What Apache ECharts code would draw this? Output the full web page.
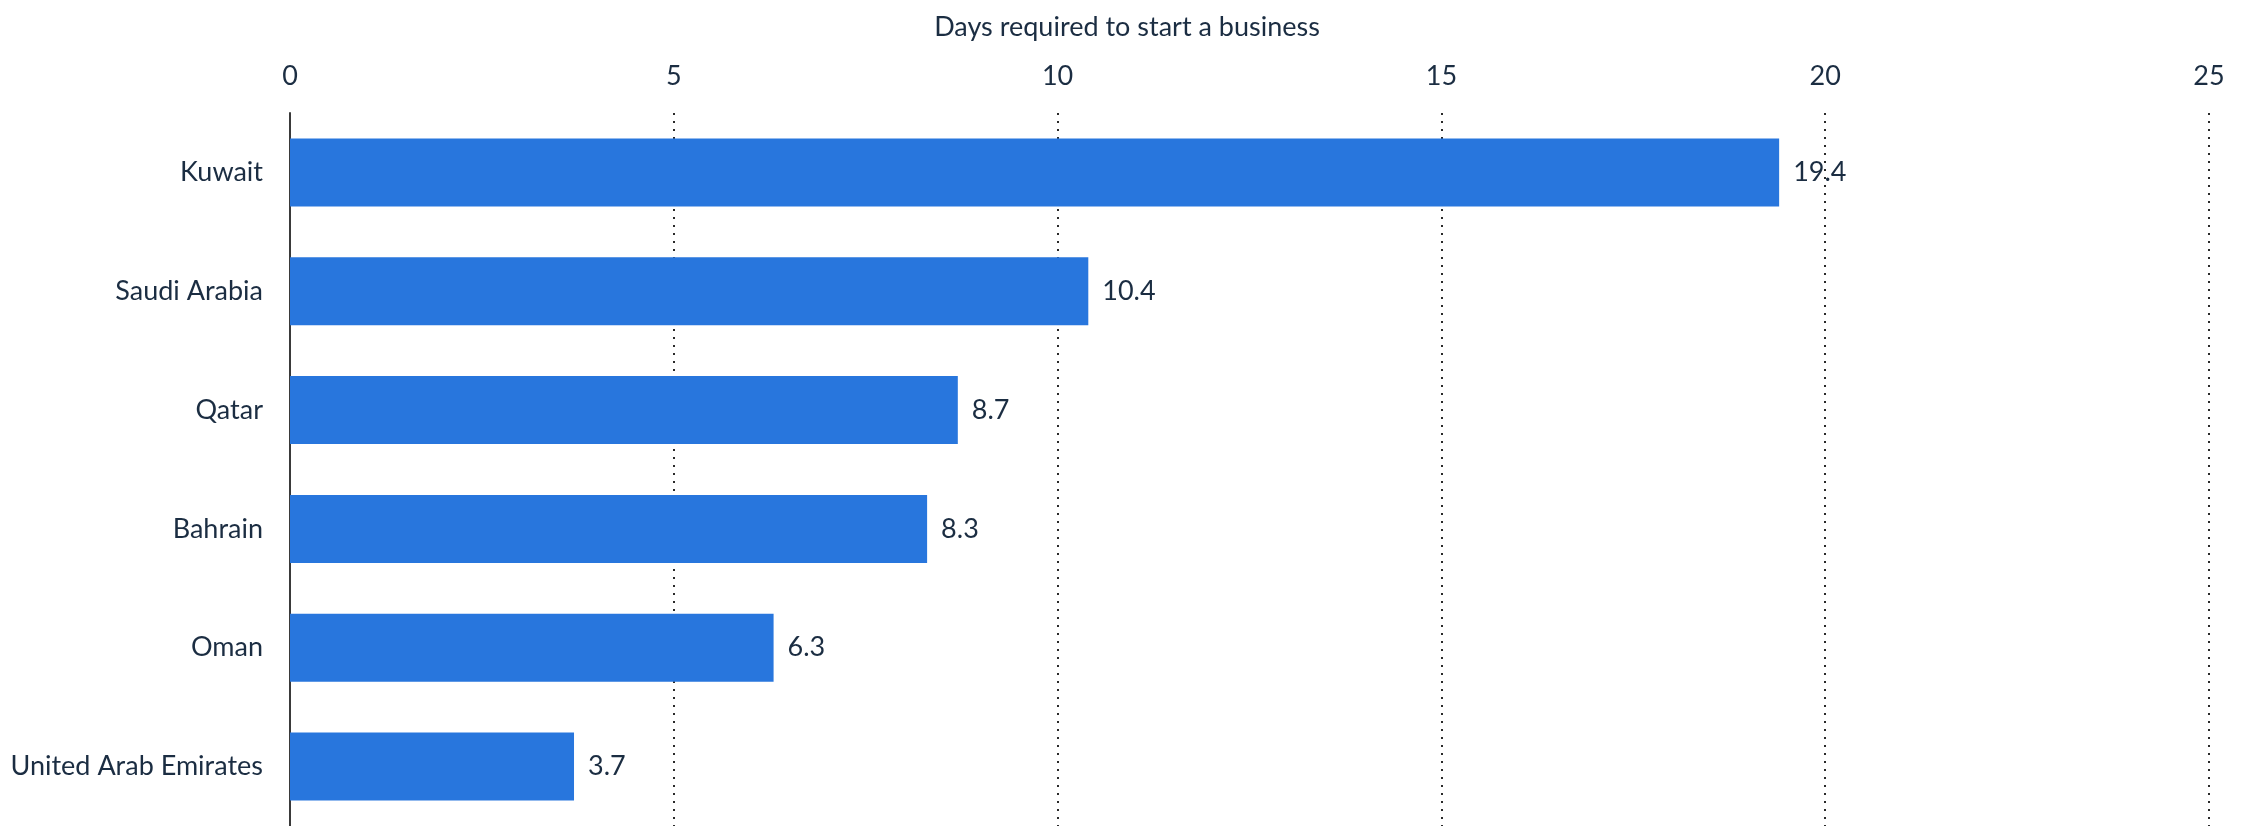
<!DOCTYPE html>
<html>
<head>
<meta charset="utf-8">
<script src="https://cdn.jsdelivr.net/npm/echarts@6/dist/echarts.min.js"></script>
<style>
  html, body { margin: 0; padding: 0; background: #ffffff; }
  #chart { width: 2254px; height: 826px; }
</style>
</head>
<body>
<div id="chart"></div>
<script>
// Days required to start a business, Gulf states
const countries = ['Kuwait', 'Saudi Arabia', 'Qatar', 'Bahrain', 'Oman', 'United Arab Emirates'];
const days = [19.4, 10.4, 8.7, 8.3, 6.3, 3.7];
const axisTitle = 'Days required to start a business';

const textColor = '#1b2d42';
const fontFamily = 'Lato, "Open Sans", sans-serif';

const chart = echarts.init(document.getElementById('chart'), null, { renderer: 'canvas' });

chart.setOption({
  backgroundColor: '#ffffff',
  animation: false,
  title: {
    text: axisTitle,
    left: 'center',
    top: 9,
    textStyle: { color: textColor, fontFamily: fontFamily, fontSize: 27, fontWeight: 'normal' }
  },
  grid: { left: 290, right: 45, top: 113, bottom: -5, containLabel: false },
  xAxis: {
    type: 'value',
    position: 'top',
    min: 0,
    max: 25,
    interval: 5,
    axisLine: { show: false },
    axisTick: { show: false },
    axisLabel: { color: textColor, fontFamily: fontFamily, fontSize: 27, margin: 23 },
    splitLine: {
      show: true,
      lineStyle: { color: '#2a2a2a', width: 2, type: [2, 6] }
    }
  },
  yAxis: {
    type: 'category',
    data: countries,
    inverse: true,
    axisLine: { show: true, lineStyle: { color: '#3a3a3a', width: 2 } },
    axisTick: { show: false },
    axisLabel: { color: textColor, fontFamily: fontFamily, fontSize: 27, margin: 27 }
  },
  series: [{
    type: 'bar',
    data: days,
    barWidth: 68,
    itemStyle: { color: '#2876dd' },
    label: {
      show: true,
      position: 'right',
      distance: 14,
      color: textColor,
      fontFamily: fontFamily,
      fontSize: 27
    }
  }]
});
</script>
</body>
</html>
